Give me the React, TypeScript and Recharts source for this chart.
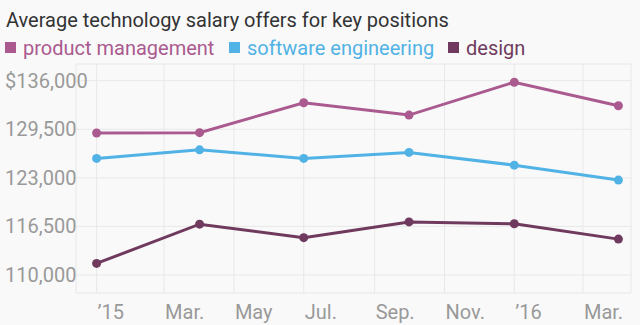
import { LineChart, Line, XAxis, YAxis, CartesianGrid } from "recharts";

const dates = ["2015-01-01", "2015-04-01", "2015-07-01", "2015-10-01", "2016-01-01", "2016-04-01"];
const productManagement = [129000, 129050, 133050, 131400, 135800, 132650];
const softwareEngineering = [125600, 126750, 125600, 126400, 124700, 122700];
const design = [111550, 116800, 115000, 117100, 116850, 114800];

const tickDates = ["2015-01-01", "2015-03-01", "2015-05-01", "2015-07-01", "2015-09-01", "2015-11-01", "2016-01-01", "2016-03-01"];
const tickLabels = ["\u201915", "Mar.", "May", "Jul.", "Sep.", "Nov.", "\u201916", "Mar."];
const yTicks = [110000, 116500, 123000, 129500, 136000];

const COLORS = ["#aa5a8f", "#51b2e5", "#6f3a5e"];
const FONT = "Roboto, 'Noto Sans', sans-serif";

const DAY = 86400000;
const origin = Date.parse("2015-01-01");
const toDay = (d: string) => Math.round((Date.parse(d) - origin) / DAY);

const data = dates.map((d, i) => ({
  t: toDay(d),
  pm: productManagement[i],
  se: softwareEngineering[i],
  ds: design[i],
}));
const xTicks = tickDates.map(toDay);

const XTick = (props: any) => {
  const { x, payload } = props;
  const idx = xTicks.indexOf(payload.value);
  return (
    <text x={x + 1} y={319} fill="#999" fontSize={20} fontFamily={FONT} textAnchor="start">
      {tickLabels[idx]}
    </text>
  );
};

const YTick = (props: any) => {
  const { y, payload } = props;
  const v = payload.value as number;
  const label = (v === 136000 ? "$" : "") + v.toLocaleString("en-US");
  return (
    <text x={5} y={y} fill="#999" fontSize={20} fontFamily={FONT} textAnchor="start" dominantBaseline="central">
      {label}
    </text>
  );
};

export default function App() {
  const series = [
    { key: "pm", name: "product management" },
    { key: "se", name: "software engineering" },
    { key: "ds", name: "design" },
  ];
  const legendX = [5, 229, 448];
  return (
    <div style={{ position: "absolute", left: 0, top: 0, width: 640, height: 325, background: "#f9f9f9" }}>
      <LineChart width={640} height={325} data={data} margin={{ top: 64, right: 9, bottom: 0, left: 0 }}>
        <CartesianGrid stroke="#e8e8e8" strokeWidth={1} />
        <XAxis
          dataKey="t"
          type="number"
          domain={[-18, 467]}
          ticks={xTicks}
          height={32}
          axisLine={false}
          tickLine={false}
          tick={<XTick />}
          interval={0}
        />
        <YAxis
          type="number"
          domain={[107590, 138235]}
          ticks={yTicks}
          width={76}
          axisLine={false}
          tickLine={false}
          tick={<YTick />}
          interval={0}
        />
        {series.map((s, i) => (
          <Line
            key={s.key}
            dataKey={s.key}
            name={s.name}
            stroke={COLORS[i]}
            strokeWidth={3}
            dot={{ r: 4.5, fill: COLORS[i], stroke: "none" }}
            activeDot={false}
            isAnimationActive={false}
          />
        ))}
      </LineChart>
      <svg width={640} height={62} style={{ position: "absolute", left: 0, top: 0 }}>
        <text x={6} y={27} fontSize={20} fill="#333" fontFamily={FONT}>
          Average technology salary offers for key positions
        </text>
        {series.map((s, i) => (
          <g key={s.key}>
            <rect x={legendX[i]} y={42} width={11} height={11} fill={COLORS[i]} />
            <text x={legendX[i] + 18} y={55} fontSize={20} fill={COLORS[i]} fontFamily={FONT}>
              {s.name}
            </text>
          </g>
        ))}
      </svg>
    </div>
  );
}
